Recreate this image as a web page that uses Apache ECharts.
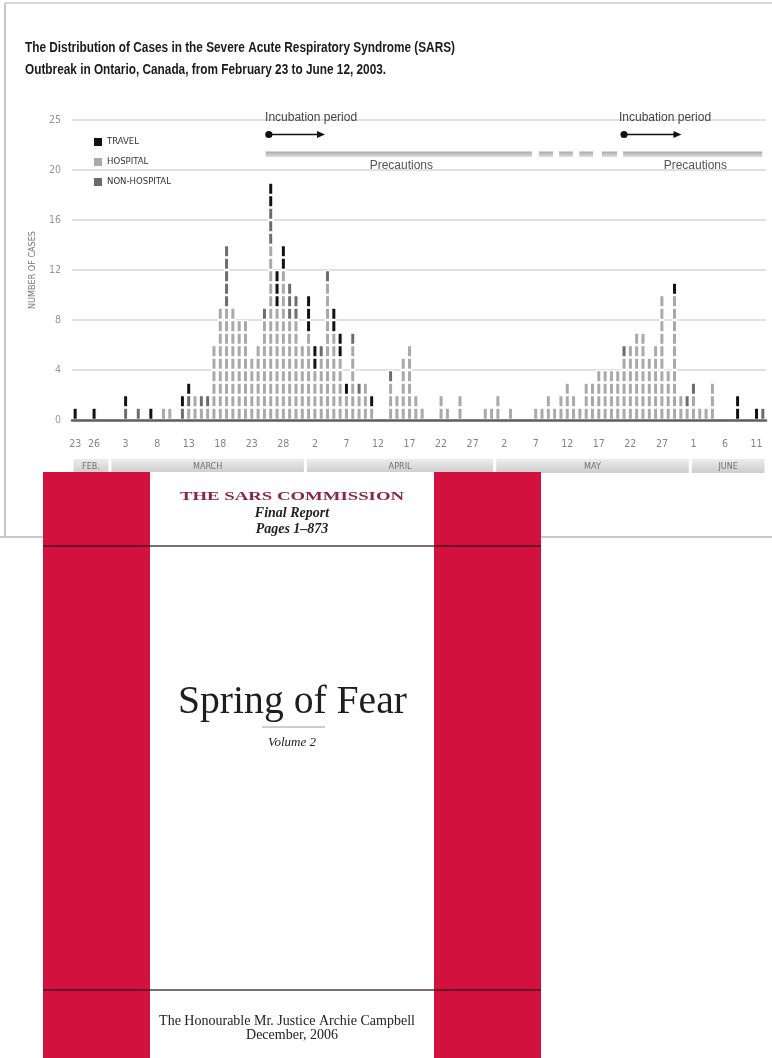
<!DOCTYPE html>
<html><head><meta charset="utf-8">
<script src="https://cdn.jsdelivr.net/npm/echarts@6/dist/echarts.min.js"></script>
<style>html,body{margin:0;padding:0;background:#fff}#c{width:772px;height:1058px}</style>
</head><body><div id="c"></div>
<script>
// ---------------- DATA ----------------
const months = [
  {name: 'FEB.',  first: 23, last: 28},
  {name: 'MARCH', first: 1,  last: 31},
  {name: 'APRIL', first: 1,  last: 30},
  {name: 'MAY',   first: 1,  last: 31},
  {name: 'JUNE',  first: 1,  last: 12}
];
// daily categories, Feb 23 -> Jun 12, 2003
const days = [];
months.forEach(m => { for (let d = m.first; d <= m.last; d++) days.push(m.name + ' ' + d); });

const tickIndex  = [0, 3, 8, 13, 18, 23, 28, 33, 38, 43, 48, 53, 58, 63, 68, 73, 78, 83, 88, 93, 98, 103, 108];
const tickLabels = ['23','26','3','8','13','18','23','28','2','7','12','17','22','27','2','7','12','17','22','27','1','6','11'];
const yLabels    = ['0','4','8','12','16','20','25'];
const legendNames = ['TRAVEL', 'HOSPITAL', 'NON-HOSPITAL'];

const travel = [
  1,0,0,1,0,0,0,0,1,0,  0,0,1,0,0,0,0,1,1,0,
  0,0,0,0,0,0,0,0,0,0,  0,2,3,2,0,0,0,3,2,0,
  0,2,2,1,0,0,0,1,0,0,  0,0,0,0,0,0,0,0,0,0,
  0,0,0,0,0,0,0,0,0,0,  0,0,0,0,0,0,0,0,0,0,
  0,0,0,0,0,0,0,0,0,0,  0,0,0,0,0,1,0,0,0,0,
  0,0,0,0,0,2,0,0,1,0
];
const hospital = [
  0,0,0,0,0,0,0,0,0,0,  0,0,0,0,1,1,0,0,1,2,
  1,1,6,9,9,9,8,8,5,6,  8,14,9,12,8,8,6,7,4,5,
  11,7,5,2,6,2,3,1,0,0, 3,2,5,6,2,1,0,0,2,1,
  0,2,0,0,0,1,1,2,0,1,  0,0,0,1,1,2,1,2,3,2,
  1,3,3,4,4,4,4,5,6,7,  7,5,6,10,4,10,2,1,2,1,
  1,3,0,0,0,0,0,0,0,0
];
const nonHospital = [
  0,0,0,0,0,0,0,0,1,0,  1,0,0,0,0,0,0,1,1,0,
  1,1,0,0,5,0,0,0,0,0,  1,3,0,0,3,2,0,0,0,1,
  1,0,0,0,1,1,0,0,0,0,  1,0,0,0,0,0,0,0,0,0,
  0,0,0,0,0,0,0,0,0,0,  0,0,0,0,0,0,0,0,0,0,
  0,0,0,0,0,0,0,1,0,0,  0,0,0,0,0,0,0,1,1,0,
  0,0,0,0,0,0,0,0,0,1
];

// ---------------- STYLE ----------------
const NARROW = "'Liberation Sans Narrow','Arial Narrow','DejaVu Sans Condensed',sans-serif";
const SANS = "'Liberation Sans',Arial,sans-serif";
const SERIF = "'Liberation Serif','Times New Roman','DejaVu Serif',serif";
const COL = {travel: '#111111', hospital: '#a9a9a9', non: '#6c6c6c'};
const RED = '#d3113f';

const tickSet = new Set(tickIndex);
const totals = days.map((_, i) => travel[i] + hospital[i] + nonHospital[i]);
const maxLevel = Math.max.apply(null, totals);

// one stacked series per case level so that each case is a separate block
const series = [];
for (let k = 1; k <= maxLevel; k++) {
  series.push({
    type: 'bar', stack: 'cases', barWidth: 5.6, silent: true,
    itemStyle: {borderColor: '#fff', borderWidth: 1.3},
    data: days.map((_, i) => {
      const h = hospital[i], n = nonHospital[i];
      if (k > totals[i]) return '-';
      const c = k <= h ? COL.hospital : (k <= h + n ? COL.non : COL.travel);
      return {value: 1, itemStyle: {color: c}};
    })
  });
}
const legendColors = [COL.travel, COL.hospital, COL.non];
legendNames.forEach((nm, i) => series.push({name: nm, type: 'bar', stack: 'cases', barWidth: 5.6, data: [], itemStyle: {color: legendColors[i]}}));

const option = {
  backgroundColor: '#fff',
  animation: false,
  legend: {
    data: legendNames, orient: 'vertical', left: 89, top: 132,
    itemWidth: 8, itemHeight: 8, itemGap: 10, icon: 'rect', selectedMode: false,
    textStyle: {fontFamily: NARROW, fontSize: 9.5, color: '#333'}
  },
  grid: {left: 72, right: 6, top: 120, bottom: 638, containLabel: false, outerBoundsMode: 'none'},
  xAxis: [{
    type: 'category', data: days, position: 'bottom', z: 5,
    axisLine: {lineStyle: {color: '#5f5f5f', width: 2.5}},
    axisTick: {alignWithLabel: true, interval: 0, length: 7, lineStyle: {color: '#d2d2d2', width: 1.5}},
    axisLabel: {show: false}
  }, {
    type: 'category', data: days, position: 'bottom', z: 4,
    axisLine: {show: false},
    axisTick: {alignWithLabel: true, interval: (i) => tickSet.has(i), length: 14, lineStyle: {color: '#c6c6c6', width: 1.5}},
    axisLabel: {
      interval: (i) => tickSet.has(i), margin: 19,
      formatter: (v, i) => tickLabels[tickIndex.indexOf(i)] || '',
      color: '#858585', fontSize: 10.5, fontFamily: NARROW
    }
  }],
  yAxis: {
    type: 'value', min: 0, max: 24, interval: 4,
    axisLine: {show: false}, axisTick: {show: false},
    splitLine: {lineStyle: {color: '#e0e0e0', width: 2}},
    axisLabel: {formatter: (v) => yLabels[v / 4], color: '#969696', fontSize: 10.5, fontFamily: NARROW, margin: 11},
    name: 'NUMBER OF CASES', nameLocation: 'middle', nameGap: 35, nameRotate: 90,
    nameTextStyle: {fontFamily: NARROW, fontSize: 9, color: '#777'}
  },
  series: series
};

const chart = echarts.init(document.getElementById('c'), null, {renderer: 'canvas'});
chart.setOption(option);

// ---------------- helpers ----------------
const mctx = document.createElement('canvas').getContext('2d');
const measure = (text, font) => { mctx.font = font; return mctx.measureText(text).width; };
const g = [];
// text element, optionally squeezed/stretched horizontally to a width
function txt(text, x, y, font, fill, align, width, z) {
  const s = width ? width / measure(text, font) : 1;
  g.push({type: 'text', x: x, y: y, scaleX: s, scaleY: 1,
    style: {text: text, x: 0, y: 0, font: font, fill: fill, align: align, verticalAlign: 'middle', textAlign: align, textVerticalAlign: 'middle'},
    z: z || 10});
}

// title (condensed bold face imitated by horizontal scaling)
const titleFont = 'bold 14px ' + SANS;
const line1 = 'The Distribution of Cases in the Severe Acute Respiratory Syndrome (SARS)';
const line2 = 'Outbreak in Ontario, Canada, from February 23 to June 12, 2003.';
const tScale = 430 / measure(line1, titleFont);
txt(line1, 25, 48.5, titleFont, '#1b1b1b', 'left', 430);
txt(line2, 25, 70, titleFont, '#1b1b1b', 'left', measure(line2, titleFont) * tScale);

// ---------------- ANNOTATIONS (anchored on the date axis) ----------------
const x0 = chart.convertToPixel({xAxisIndex: 0}, 0);
const step = chart.convertToPixel({xAxisIndex: 0}, 1) - x0;
const xAt = d => x0 + step * d;

// frame
g.push({type: 'line', shape: {x1: 5, y1: 3, x2: 772, y2: 3}, style: {stroke: '#d6d6d6', lineWidth: 2}, z: 1});
g.push({type: 'line', shape: {x1: 5, y1: 3, x2: 5, y2: 537}, style: {stroke: '#c8c8c8', lineWidth: 2}, z: 1});
g.push({type: 'line', shape: {x1: 0, y1: 537, x2: 772, y2: 537}, style: {stroke: '#c8c8c8', lineWidth: 2}, z: 1});

// incubation periods
[[30.1, 30.7, 39.6], [86.2, 87.0, 96.1]].forEach(([tx, s, e]) => {
  txt('Incubation period', xAt(tx), 118, '12px ' + SANS, '#444', 'left');
  g.push({type: 'line', shape: {x1: xAt(s), y1: 134.5, x2: xAt(e) - 4, y2: 134.5}, style: {stroke: '#111', lineWidth: 1.3}, z: 10});
  g.push({type: 'circle', shape: {cx: xAt(s), cy: 134.5, r: 3.6}, style: {fill: '#111'}, z: 10});
  g.push({type: 'polygon', shape: {points: [[xAt(e) - 8, 131], [xAt(e), 134.5], [xAt(e) - 8, 138]]}, style: {fill: '#111'}, z: 10});
});
// precautions bands
const bandGrad = {type: 'linear', x: 0, y: 0, x2: 0, y2: 1, colorStops: [{offset: 0, color: '#a9a9a9'}, {offset: 1, color: '#dedede'}]};
[[30.2, 72.4], [73.5, 75.75], [76.7, 78.9], [79.9, 82.1], [83.5, 85.9], [86.85, 108.9]].forEach(([a, b]) => {
  g.push({type: 'rect', shape: {x: xAt(a), y: 151.5, width: xAt(b) - xAt(a), height: 5.5}, style: {fill: bandGrad}, z: 10});
});
[51.7, 98.3].forEach(d => txt('Precautions', xAt(d), 165.5, '12px ' + SANS, '#555', 'center'));

// month bands
const monthGrad = {type: 'linear', x: 0, y: 0, x2: 0, y2: 1, colorStops: [{offset: 0, color: '#ececec'}, {offset: 1, color: '#cdcdcd'}]};
let startIdx = 0;
months.forEach(m => {
  const n = m.last - m.first + 1;
  const a = xAt(startIdx - 0.5) + 1.5, b = xAt(startIdx + n - 0.5) - 1.5;
  g.push({type: 'rect', shape: {x: a, y: 459, width: b - a, height: 14}, style: {fill: monthGrad}, z: 10});
  txt(m.name, (a + b) / 2, 466.5, '9px ' + NARROW, '#707070', 'center', null, 11);
  startIdx += n;
});

// ---------------- BOOK COVER ----------------
const BZ = 50;
g.push({type: 'rect', shape: {x: 43, y: 472, width: 498, height: 590}, style: {fill: '#fff'}, z: BZ});
g.push({type: 'rect', shape: {x: 43, y: 472, width: 107, height: 590}, style: {fill: RED}, z: BZ});
g.push({type: 'rect', shape: {x: 434, y: 472, width: 107, height: 590}, style: {fill: RED}, z: BZ});
[546, 990].forEach(y => g.push({type: 'line', shape: {x1: 43, y1: y, x2: 541, y2: y}, style: {stroke: 'rgba(45,20,30,0.62)', lineWidth: 2}, z: BZ + 1}));
txt('THE SARS COMMISSION', 292, 497, 'bold 13px ' + SERIF, '#8e2444', 'center', 224, BZ + 2);
txt('Final Report', 292, 513, 'italic bold 14px ' + SERIF, '#222', 'center', null, BZ + 2);
txt('Pages 1–873', 292, 529.5, 'italic bold 14px ' + SERIF, '#222', 'center', null, BZ + 2);
txt('Spring of Fear', 292.5, 703, '39px ' + SERIF, '#1e1e1e', 'center', 229, BZ + 2);
g.push({type: 'line', shape: {x1: 262, y1: 727, x2: 325, y2: 727}, style: {stroke: '#9a9a9a', lineWidth: 1}, z: BZ + 2});
txt('Volume 2', 292, 743, 'italic 13px ' + SERIF, '#222', 'center', null, BZ + 2);
txt('The Honourable Mr. Justice Archie Campbell', 287, 1021.5, '14px ' + SERIF, '#222', 'center', null, BZ + 2);
txt('December, 2006', 292, 1035, '14px ' + SERIF, '#222', 'center', null, BZ + 2);

chart.setOption({graphic: {elements: g}});
</script>
</body></html>
